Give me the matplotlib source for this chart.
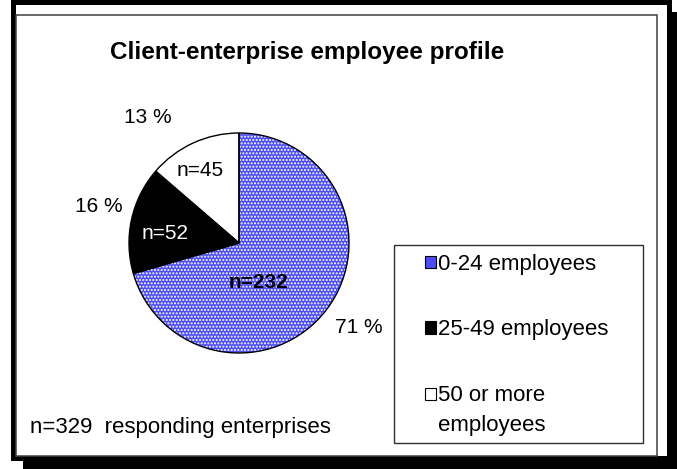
import matplotlib.pyplot as plt
from matplotlib.patches import Rectangle, Patch

plt.rcParams['font.family'] = ['Liberation Sans', 'DejaVu Sans']

# 数据
groups = ['0-24 employees', '25-49 employees', '50 or more\nemployees']
counts = [232, 52, 45]
count_labels = ['n=232', 'n=52', 'n=45']
pct_labels = ['71 %', '16 %', '13 %']
colors = ['#4c4cff', 'black', 'white']
note = 'n=329  responding enterprises'
title = 'Client-enterprise employee profile'

W, H = 677, 469
fig = plt.figure(figsize=(W / 100, H / 100), dpi=100)

# 背景画布，用像素坐标
bg = fig.add_axes([0, 0, 1, 1])
bg.set_xlim(0, W)
bg.set_ylim(H, 0)
bg.axis('off')

# 阴影 + 外框
bg.add_patch(Rectangle((23, 12), W - 23, H - 12, facecolor='black', edgecolor='none'))
bg.add_patch(Rectangle((12.5, 2), 656, 456, facecolor='white', edgecolor='black', linewidth=3.6))
bg.add_patch(Rectangle((16, 15), 641, 441, facecolor='none', edgecolor='#404040', linewidth=1.1))
# 图例框
bg.add_patch(Rectangle((394, 245), 249, 198, facecolor='none', edgecolor='#303030', linewidth=1.0))

bg.text(307, 53, title, fontsize=17.5, fontweight='bold', ha='center', va='center')
bg.text(30, 428, note, fontsize=16, ha='left', va='center')

# 饼图
ax = fig.add_axes([129 / W, (H - 353) / H, 220 / W, 220 / H])
wedges, _ = ax.pie(counts, colors=colors, startangle=90, counterclock=False,
                   wedgeprops=dict(edgecolor='white', linewidth=0))
wedges[0].set_hatch('.....')
ax.pie(counts, colors=colors, startangle=90, counterclock=False,
       wedgeprops=dict(fill=False, edgecolor='black', linewidth=1.0))
ax.set_xlim(-1, 1)
ax.set_ylim(-1, 1)

# 百分比标签（饼外）和 n 标签（饼内）
pct_pos = [(1.09, -0.77), (-1.27, 0.33), (-0.83, 1.14)]
n_pos = [(0.18, -0.36), (-0.67, 0.09), (-0.35, 0.66)]
n_colors = ['black', 'white', 'black']
n_weights = ['bold', 'normal', 'normal']
for i in range(len(counts)):
    ax.text(pct_pos[i][0], pct_pos[i][1], pct_labels[i], fontsize=15, ha='center', va='center')
    ax.text(n_pos[i][0], n_pos[i][1], count_labels[i], fontsize=15, ha='center', va='center',
            color=n_colors[i], fontweight=n_weights[i])

# 图例
handles = [Patch(facecolor=c, edgecolor='black', linewidth=0.8) for c in colors]
leg = bg.legend(handles, groups, loc='upper left', bbox_to_anchor=(425, 254),
                bbox_transform=bg.transData, frameon=False, borderpad=0, borderaxespad=0,
                prop={'size': 16}, handlelength=0.5, handleheight=0.5,
                handletextpad=0.1, labelspacing=2.0)
leg.get_texts()[2].set_linespacing(1.6)
# 两行标签的方块对齐第一行
h3 = leg.legend_handles[2]
h3.set_y(h3.get_y() + 12)

fig.savefig('out.png', dpi=100)
